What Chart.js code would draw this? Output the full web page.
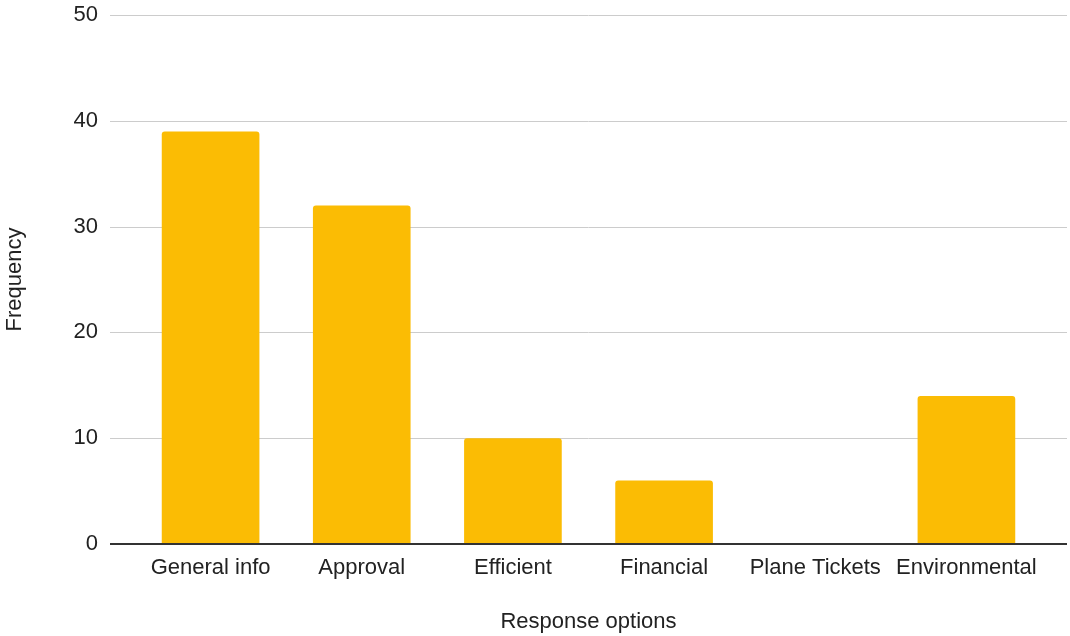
<!DOCTYPE html>
<html>
<head>
<meta charset="utf-8">
<script src="https://cdn.jsdelivr.net/npm/chart.js@4/dist/chart.umd.min.js"></script>
<style>
  html, body { margin: 0; padding: 0; background: #ffffff; }
  #wrap { width: 1070px; height: 636px; position: relative; }
</style>
</head>
<body>
<div id="wrap"><canvas id="chart" width="1070" height="636"></canvas></div>
<script>
// Survey responses per option
const categories = ['General info', 'Approval', 'Efficient', 'Financial', 'Plane Tickets', 'Environmental'];
const frequency = [39, 32, 10, 6, 0, 14];
const yTicks = [0, 10, 20, 30, 40, 50];

const FONT = "'Liberation Sans', Arial, sans-serif";
const TEXT = '#222222';
const GRID_OVERHANG = 25; // horizontal rules run a little past the category band

// Horizontal rules drawn from the y scale, wider than the bar band
const wideGrid = {
  id: 'wideGrid',
  beforeDatasetsDraw(chart) {
    const { ctx, chartArea, scales } = chart;
    const y = scales.y;
    ctx.save();
    ctx.lineWidth = 1;
    ctx.strokeStyle = '#cccccc';
    y.ticks.forEach(t => {
      if (t.value === 0) return;
      const py = Math.round(y.getPixelForValue(t.value)) + 0.5;
      ctx.beginPath();
      ctx.moveTo(chartArea.left - GRID_OVERHANG, py);
      ctx.lineTo(chartArea.right + GRID_OVERHANG, py);
      ctx.stroke();
    });
    ctx.restore();
  },
  afterDatasetsDraw(chart) {
    const { ctx, chartArea, scales } = chart;
    const py = Math.round(scales.y.getPixelForValue(0));
    ctx.save();
    ctx.lineWidth = 2;
    ctx.strokeStyle = '#333333';
    ctx.beginPath();
    ctx.moveTo(chartArea.left - GRID_OVERHANG, py);
    ctx.lineTo(chartArea.right + GRID_OVERHANG, py);
    ctx.stroke();
    ctx.restore();
  }
};

new Chart(document.getElementById('chart'), {
  type: 'bar',
  data: {
    labels: categories,
    datasets: [{
      label: 'Frequency',
      data: frequency,
      backgroundColor: '#fbbc04',
      borderRadius: { topLeft: 3, topRight: 3 },
      borderSkipped: 'start',
      barPercentage: 0.646,
      categoryPercentage: 1.0
    }]
  },
  options: {
    responsive: false,
    animation: false,
    devicePixelRatio: 1,
    layout: { padding: { top: 15, right: 28, bottom: 0, left: 0 } },
    plugins: {
      legend: { display: false },
      tooltip: { enabled: false }
    },
    scales: {
      x: {
        offset: true,
        grid: { display: false, drawTicks: false },
        border: { display: false },
        ticks: {
          color: TEXT,
          font: { family: FONT, size: 22 },
          padding: 11,
          maxRotation: 0,
          autoSkip: false
        },
        title: {
          display: true,
          text: 'Response options',
          color: TEXT,
          font: { family: FONT, size: 22 },
          padding: { top: 0, bottom: 1 }
        },
        afterFit(scale) { scale.height = 92; scale.paddingLeft = 0; scale.paddingRight = 0; }
      },
      y: {
        min: 0,
        max: 50,
        afterBuildTicks(scale) { scale.ticks = yTicks.map(v => ({ value: v })); },
        grid: { display: false, drawTicks: false },
        border: { display: false },
        ticks: {
          color: TEXT,
          font: { family: FONT, size: 22 },
          padding: 37
        },
        title: {
          display: true,
          text: 'Frequency',
          color: TEXT,
          font: { family: FONT, size: 22 },
          padding: { top: 2, bottom: 0 }
        },
        afterFit(scale) { scale.width = 135; scale.paddingTop = 0; scale.paddingBottom = 0; }
      }
    }
  },
  plugins: [wideGrid]
});
</script>
</body>
</html>
